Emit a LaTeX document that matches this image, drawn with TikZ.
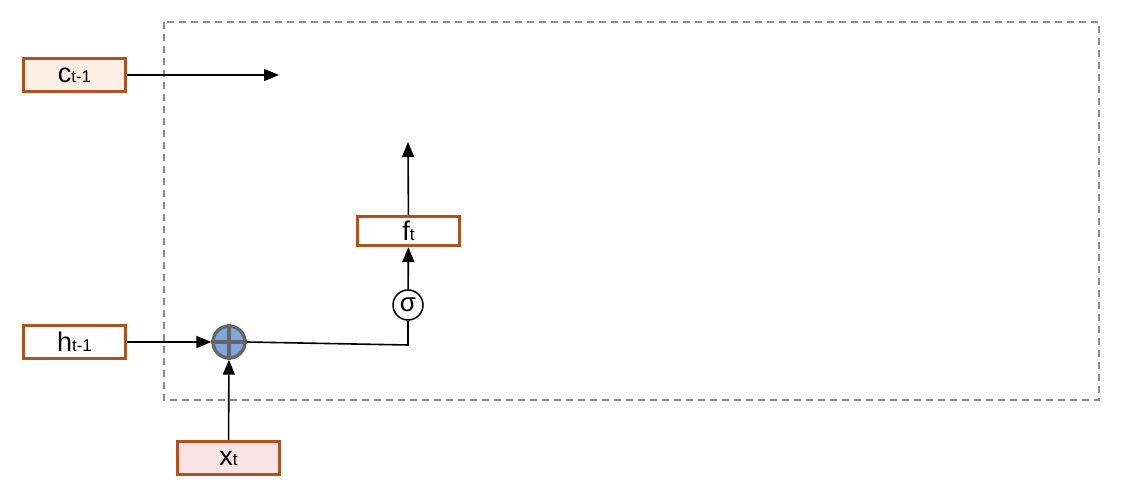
\documentclass[tikz,border=0pt]{standalone}
\usepackage{fontspec}
\setmainfont{Liberation Sans}
\usetikzlibrary{arrows.meta}
\definecolor{boxborder}{HTML}{B0521F}
\definecolor{peach}{HTML}{FDEFE3}
\definecolor{pinkfill}{HTML}{F8E4E4}
\definecolor{plusblue}{HTML}{7EA6E0}
\definecolor{plusgray}{HTML}{666666}
\tikzset{
  vecbox/.style={draw=boxborder, line width=3.4pt, minimum width=102pt, minimum height=33pt, inner sep=0pt, fill=white},
  flow/.style={line width=1.6pt, -{Triangle[length=15pt,width=12pt]}},
  plain/.style={line width=1.6pt},
  sigmanode/.style={circle, draw, line width=1.5pt, minimum size=30pt, inner sep=0pt, fill=white}
}
\newcommand{\lbl}[2]{{\fontsize{27}{27}\selectfont #1}{\fontsize{17}{17}\selectfont #2}}
\begin{document}
\begin{tikzpicture}[x=1pt,y=-1pt]
\useasboundingbox (0,0) rectangle (1126,494);
\draw[gray!90, line width=1.5pt, dash pattern=on 7pt off 5pt] (164,22) rectangle (1099,400);
\node[vecbox, fill=peach] (c) at (74.5,75) {\lbl{c}{t-1}};
\node[vecbox] (h) at (74.5,342) {\lbl{h}{t-1}};
\node[vecbox, fill=pinkfill] (x) at (228.5,458) {\lbl{x}{t}};
\node[vecbox, minimum height=29pt] (f) at (408.5,231) {\lbl{f}{t}};
\node[circle, draw=plusgray, fill=plusblue, line width=3.4pt, minimum size=32pt, inner sep=0pt] (plus) at (229,342) {};
\draw[plusgray, line width=3.4pt] (plus.north) -- (plus.south) (plus.west) -- (plus.east);
\node[sigmanode] (sig) at (408,305) {\fontsize{26}{26}\selectfont σ};
\coordinate (cend) at (279,75);
\coordinate (fend) at (408,142);
\coordinate (bend) at (408,345);
\draw[flow] (c) -- (cend);
\draw[flow] (h) -- (plus);
\draw[flow] (x) -- (plus);
\draw[plain] (plus.east) -- (bend) -- (sig.south);
\draw[flow] (sig) -- (f);
\draw[flow] (f) -- (fend);
\end{tikzpicture}
\end{document}
